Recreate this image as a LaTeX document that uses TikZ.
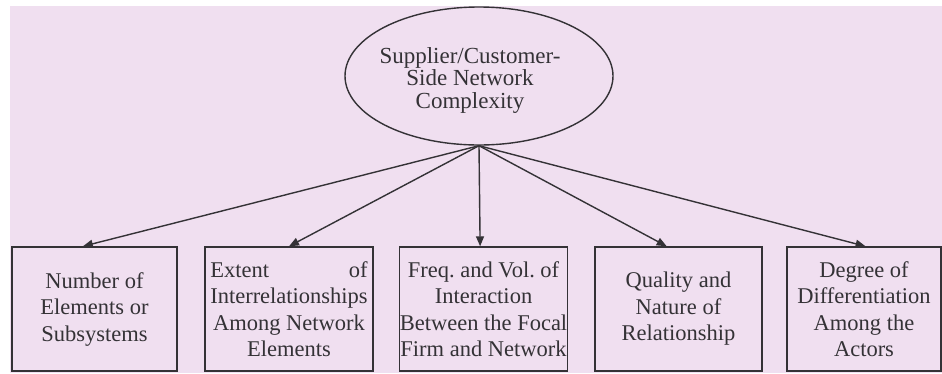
\documentclass[tikz,border=0pt]{standalone}
\usepackage{fontspec}
\setmainfont{Liberation Serif}
\usetikzlibrary{shapes.geometric,arrows.meta,calc}
\definecolor{paper}{RGB}{240,223,240}
\definecolor{ink}{RGB}{52,50,54}
\newlength\extentw
\begin{document}
\begin{tikzpicture}[x=1pt,y=-1pt,
  label text/.style={text=ink, align=center, inner sep=0pt},
  factor/.style={draw=ink, line width=1.4pt, minimum height=124pt, inner sep=0pt,
    label text, font=\fontsize{22.5}{26.5}\selectfont},
  link/.style={draw=ink, line width=1.4pt, -{Triangle[length=10pt,width=8pt]}}]
% page and tinted sheet
\fill[white] (0,0) rectangle (942,373);
\fill[paper] (10,6) rectangle (942,373);
\useasboundingbox (0,0) rectangle (942,373);

% central concept
\node[ellipse, draw=ink, line width=1.4pt, minimum width=268pt, minimum height=138pt,
  inner sep=0pt] (hub) at (479,76) {};
\node[label text, font=\fontsize{23}{22.5}\selectfont] (hubtext)
  at ($(hub.center)+(-9,4)$) {Supplier/Customer-\\Side Network\\Complexity};

% dimensions of complexity
\node[factor, minimum width=165pt] (b1) at (94.5,309)
  {Number of\\Elements or\\Subsystems};
\node[factor, minimum width=168pt] (b2) at (289,309)
  {\settowidth{\extentw}{Interrelationships}\makebox[\extentw]{Extent\hfill of}\\
   Interrelationships\\Among Network\\Elements};
\node[factor, minimum width=167pt] (b3) at (483.5,309)
  {Freq.\ and Vol.\ of\\Interaction\\Between the Focal\\Firm and Network};
\node[factor, minimum width=167pt] (b4) at (678.5,309)
  {Quality and\\Nature of\\Relationship};
\node[factor, minimum width=154pt] (b5) at (864,309)
  {Degree of\\Differentiation\\Among the\\Actors};

% links from the concept to each dimension
\draw[link] (hub.south) -- ($(b1.north west)!0.43!(b1.north east)$);
\draw[link] (hub.south) -- (b2.north);
\draw[link] (hub.south) -- ($(b3.north west)!0.48!(b3.north east)$);
\draw[link] (hub.south) -- ($(b4.north west)!0.43!(b4.north east)$);
\draw[link] (hub.south) -- ($(b5.north west)!0.51!(b5.north east)$);
\end{tikzpicture}
\end{document}
